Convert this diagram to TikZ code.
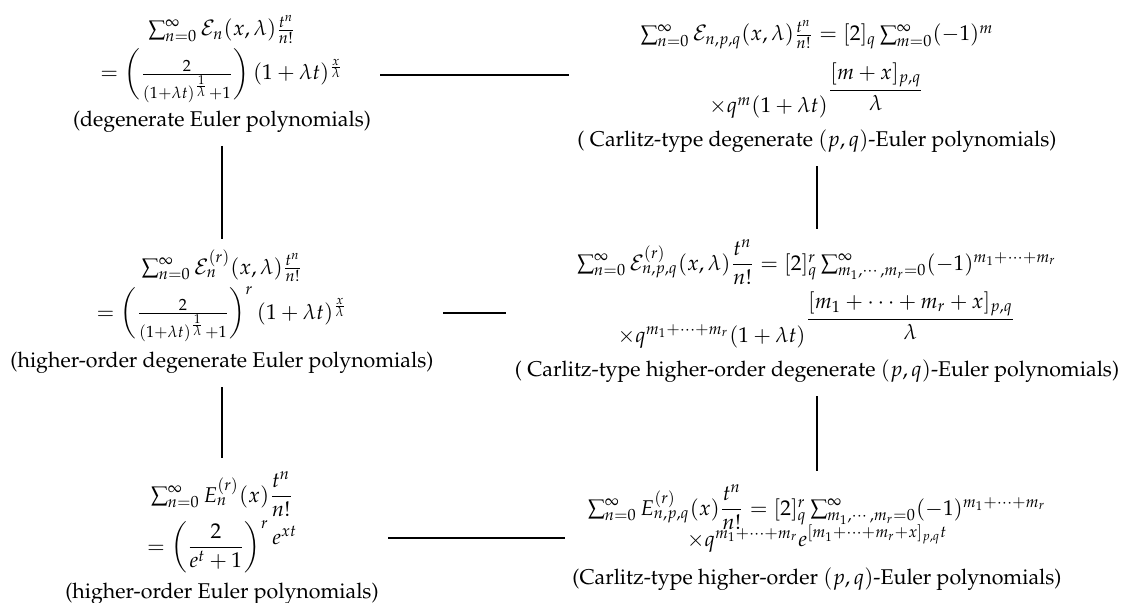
\documentclass[tikz,border=0pt]{standalone}
\usepackage[T1]{fontenc}
\usepackage{mathpazo}
\usepackage{amsmath}
\usetikzlibrary{calc}
\begin{document}
\begin{tikzpicture}[x=0.468pt,y=-0.468pt]
\tikzset{
  row/.style={inner sep=0pt, anchor=base},
  link/.style={line width=0.6pt, black}
}
\useasboundingbox (0,0) rectangle (1121,603);

% top left
\node[row] (tl1) at (222,36) {$\sum_{n=0}^{\infty}\mathcal{E}_n(x,\lambda)\frac{t^n}{n!}$};
\node[row] (tl2) at (222,80) {$=\left(\frac{2}{(1+\lambda t)^{\frac{1}{\lambda}}+1}\right)(1+\lambda t)^{\frac{x}{\lambda}}$};
\node[row] (tl3) at (222,127) {(degenerate Euler polynomials)};

% top right
\node[row] (tr1) at (817,41) {$\sum_{n=0}^{\infty}\mathcal{E}_{n,p,q}(x,\lambda)\frac{t^n}{n!}=[2]_q\sum_{m=0}^{\infty}(-1)^m$};
\node[row] (tr2) at (817,113) {$\times q^m(1+\lambda t)^{\dfrac{[m+x]_{p,q}}{\lambda}}$};
\node[row] (tr3) at (817,146) {( Carlitz-type degenerate $(p,q)$-Euler polynomials)};

% middle left
\node[row] (ml1) at (222,274) {$\sum_{n=0}^{\infty}\mathcal{E}^{(r)}_n(x,\lambda)\frac{t^n}{n!}$};
\node[row] (ml2) at (222,319) {$=\left(\frac{2}{(1+\lambda t)^{\frac{1}{\lambda}}+1}\right)^r(1+\lambda t)^{\frac{x}{\lambda}}$};
\node[row] (ml3) at (222,367) {(higher-order degenerate Euler polynomials)};

% middle right
\node[row] (mr1) at (817,270) {$\sum_{n=0}^{\infty}\mathcal{E}^{(r)}_{n,p,q}(x,\lambda)\dfrac{t^n}{n!}=[2]_q^r\sum_{m_1,\cdots,m_r=0}^{\infty}(-1)^{m_1+\cdots+m_r}$};
\node[row] (mr2) at (817,342) {$\times q^{m_1+\cdots+m_r}(1+\lambda t)^{\dfrac{[m_1+\cdots+m_r+x]_{p,q}}{\lambda}}$};
\node[row] (mr3) at (817,376) {( Carlitz-type higher-order degenerate $(p,q)$-Euler polynomials)};

% bottom left
\node[row] (bl1) at (222,502) {$\sum_{n=0}^{\infty}E^{(r)}_n(x)\dfrac{t^n}{n!}$};
\node[row] (bl2) at (222,553) {$=\left(\dfrac{2}{e^t+1}\right)^r\raisebox{4pt}{$e^{xt}$}$};
\node[row] (bl3) at (222,598) {(higher-order Euler polynomials)};

% bottom right
\node[row] (br1) at (817,515) {$\sum_{n=0}^{\infty}E^{(r)}_{n,p,q}(x)\dfrac{t^n}{n!}=[2]_q^r\sum_{m_1,\cdots,m_r=0}^{\infty}(-1)^{m_1+\cdots+m_r}$};
\node[row] (br2) at (817,546) {$\times q^{m_1+\cdots+m_r}e^{[m_1+\cdots+m_r+x]_{p,q}t}$};
\node[row] (br3) at (817,584) {(Carlitz-type higher-order $(p,q)$-Euler polynomials)};

% horizontal connectors
\draw[link] ($(tl2.base)+(158,-5)$) -- ($(tr1.base)+(-248,34)$);
\draw[link] ($(ml2.base)+(221,-6)$) -- ($(mr1.base)+(-311,43)$);
\draw[link] ($(bl2.base)+(166,-15)$) -- ($(br2.base)+(-252,-8)$);
% vertical connectors
\draw[link] ($(tl3.base)+(0,19)$) -- ($(ml1.base)+(0,-35)$);
\draw[link] ($(ml3.base)+(0,20)$) -- ($(bl1.base)+(0,-44)$);
\draw[link] ($(tr3.base)+(0,20)$) -- ($(mr1.base)+(0,-41)$);
\draw[link] ($(mr3.base)+(0,20)$) -- ($(br1.base)+(0,-44)$);
\end{tikzpicture}
\end{document}
